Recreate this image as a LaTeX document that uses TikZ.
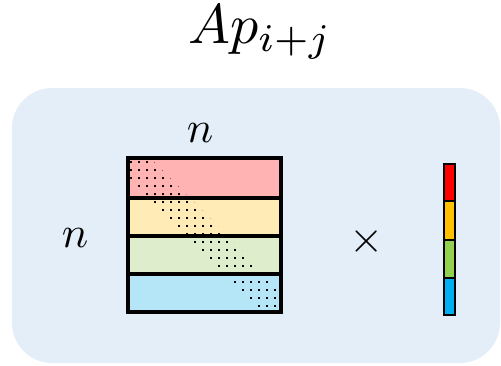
\documentclass[tikz,border=0pt]{standalone}
\definecolor{bgblue}{HTML}{E4EEF8}
\definecolor{rowA}{HTML}{FFB3B3}
\definecolor{rowB}{HTML}{FFEBB5}
\definecolor{rowC}{HTML}{DEEDCB}
\definecolor{rowD}{HTML}{B4E6F8}
\definecolor{vecA}{HTML}{FF0000}
\definecolor{vecB}{HTML}{FFC000}
\definecolor{vecC}{HTML}{92D050}
\definecolor{vecD}{HTML}{00B0F0}
\tikzset{
  band/.style={draw=black, line width=3.4pt},
  vband/.style={draw=black, line width=2.6pt},
  lbl/.style={inner sep=0pt, anchor=base, scale=4.4},
}
\begin{document}
\begin{tikzpicture}[x=1pt,y=-1pt]
\useasboundingbox (0,0) rectangle (501,365);
% background panel
\fill[bgblue, rounded corners=40pt] (12,88) rectangle (500,363);
% title
\node[inner sep=0pt, anchor=base, scale=5.6] (title) at (260,43) {$Ap_{i+j}$};
% labels
\node[lbl] (ntop) at (200,142) {$n$};
\node[lbl] (nleft) at (75,247) {$n$};
\node[inner sep=0pt, scale=4.4] (times) at (367,241) {$\times$};
% matrix bands
\fill[rowA] (128,158) rectangle (281,198);
\fill[rowB] (128,198) rectangle (281,236);
\fill[rowC] (128,236) rectangle (281,274);
\fill[rowD] (128,274) rectangle (281,312);
% dotted diagonal
\begin{scope}
\clip (128,158) -- (150,158) -- (281,290) -- (281,312) -- (262,312) -- (128,176) -- cycle;
\foreach \i in {0,...,19}{
  \foreach \j in {0,...,19}{
    \fill[black] ({130+8*\i},{161+8*\j}) rectangle ++(2.2,2.2);
  }
}
\end{scope}
\draw[band] (128,158) rectangle (281,198);
\draw[band] (128,198) rectangle (281,236);
\draw[band] (128,236) rectangle (281,274);
\draw[band] (128,274) rectangle (281,312);
% vector
\draw[vband, fill=vecA] (444,164) rectangle (455,201);
\draw[vband, fill=vecB] (444,201) rectangle (455,240);
\draw[vband, fill=vecC] (444,240) rectangle (455,278);
\draw[vband, fill=vecD] (444,278) rectangle (455,315);
\end{tikzpicture}
\end{document}
